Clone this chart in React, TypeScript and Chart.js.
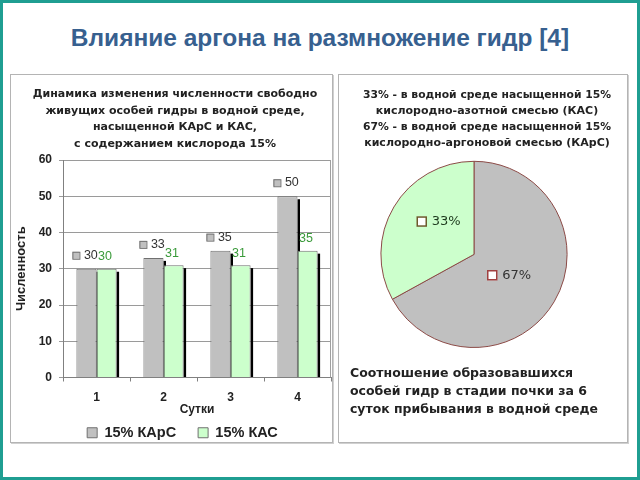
import React, { useEffect, useRef } from 'react';
import { Chart, registerables } from 'chart.js';

Chart.register(...registerables);

// ---------- data ----------
const slideTitle = 'Влияние аргона на размножение гидр [4]';

const barTitleLines = [
  'Динамика изменения численности свободно',
  'живущих особей гидры в водной среде,',
  'насыщенной КАрС и КАС,',
  'с содержанием кислорода 15%',
];
const days = ['1', '2', '3', '4'];
const seriesNames = ['15% КАрС', '15% КАС'];
const karsCounts = [30, 33, 35, 50];
const kasCounts = [30, 31, 31, 35];
const yAxisLabel = 'Численность';
const xAxisLabel = 'Сутки';
const yMin = 0;
const yMax = 60;
const yStep = 10;

const pieTitleLines = [
  '33% - в водной среде насыщенной 15%',
  'кислородно-азотной смесью (КАС)',
  '67% - в водной среде насыщенной 15%',
  'кислородно-аргоновой смесью (КАрС)',
];
const pieLabels = ['КАрС', 'КАС'];
const pieShares = [67, 33];
const pieCaptionLines = [
  'Соотношение образовавшихся',
  'особей гидр в стадии почки за 6',
  'суток прибывания в водной среде',
];

// ---------- styles ----------
const GRAY = '#c0c0c0';
const GREEN = '#ccffcc';
const TEXT = '#222222';

// ---------- plugins ----------
const boxShiftPlugin = {
  id: 'boxShift',
  afterLayout(chart: any, _args: any, opts: any) {
    if (!opts) return;
    if (opts.titleDx && chart.titleBlock) {
      chart.titleBlock.left += opts.titleDx;
      chart.titleBlock.right += opts.titleDx;
    }
    if (chart.legend) {
      if (opts.legendDx) {
        chart.legend.left += opts.legendDx;
        chart.legend.right += opts.legendDx;
      }
      if (opts.legendDy) {
        chart.legend.top += opts.legendDy;
        chart.legend.bottom += opts.legendDy;
      }
    }
  },
};

const barShadowPlugin = {
  id: 'barShadow',
  beforeDatasetsDraw(chart: any) {
    const ctx = chart.ctx;
    const area = chart.chartArea;
    ctx.save();
    // right border of plot area
    ctx.strokeStyle = '#a0a0a0';
    ctx.lineWidth = 1;
    ctx.beginPath();
    ctx.moveTo(Math.round(area.right) - 0.5, area.top);
    ctx.lineTo(Math.round(area.right) - 0.5, area.bottom);
    ctx.stroke();
    ctx.fillStyle = '#000';
    chart.data.datasets.forEach((_ds: any, i: number) => {
      const meta = chart.getDatasetMeta(i);
      meta.data.forEach((el: any) => {
        const { x, y, base, width } = el.getProps(['x', 'y', 'base', 'width'], true);
        const right = x + width / 2;
        ctx.fillRect(right, y + 3, 2.5, base - y - 3);
      });
    });
    ctx.restore();
  },
};

const barLabelPlugin = {
  id: 'barLabels',
  afterDatasetsDraw(chart: any) {
    const ctx = chart.ctx;
    ctx.save();
    ctx.font = '12.5px "Liberation Sans", Arial, sans-serif';
    ctx.textBaseline = 'middle';
    ctx.textAlign = 'left';
    chart.data.datasets.forEach((ds: any, i: number) => {
      const meta = chart.getDatasetMeta(i);
      meta.data.forEach((el: any, j: number) => {
        const { x, y, width } = el.getProps(['x', 'y', 'width'], true);
        const left = x - width / 2;
        const value = String(ds.data[j]);
        if (i === 0) {
          const cy = y - 13.5;
          ctx.fillStyle = GRAY;
          ctx.fillRect(left - 4, cy - 3.5, 7, 7);
          ctx.strokeStyle = '#707070';
          ctx.lineWidth = 1;
          ctx.strokeRect(left - 3.5, cy - 3, 7, 7);
          ctx.fillStyle = '#333333';
          ctx.fillText(value, left + 7.5, cy);
        } else {
          const cy = y - 12;
          ctx.fillStyle = '#3a9a3a';
          ctx.fillText(value, left + 1.5, cy);
        }
      });
    });
    ctx.restore();
  },
};

const pieSquareColors = ['#a04040', '#6b5a2a'];
const pieTextColors = ['#333333', '#1d3a1d'];

const pieLabelPlugin = {
  id: 'pieLabels',
  afterDatasetsDraw(chart: any) {
    const ctx = chart.ctx;
    const meta = chart.getDatasetMeta(0);
    const total = (chart.data.datasets[0].data as number[]).reduce((a, b) => a + b, 0);
    ctx.save();
    ctx.font = '13px "DejaVu Sans", sans-serif';
    ctx.textBaseline = 'middle';
    ctx.textAlign = 'left';
    meta.data.forEach((el: any, i: number) => {
      const { x, y, startAngle, endAngle, outerRadius } = el.getProps(
        ['x', 'y', 'startAngle', 'endAngle', 'outerRadius'],
        true
      );
      const mid = (startAngle + endAngle) / 2;
      const cx = x + Math.cos(mid) * outerRadius * 0.44;
      const cy = y + Math.sin(mid) * outerRadius * 0.44 - (Math.sin(mid) < 0 ? 12 : 0);
      const pct = Math.round((chart.data.datasets[0].data[i] / total) * 100) + '%';
      ctx.fillStyle = '#ffffff';
      ctx.fillRect(cx - 22, cy - 5, 10, 10);
      ctx.strokeStyle = pieSquareColors[i];
      ctx.lineWidth = 1.5;
      ctx.strokeRect(cx - 21.5, cy - 4.5, 9, 9);
      ctx.fillStyle = pieTextColors[i];
      ctx.fillText(pct, cx - 7, cy + 0.5);
    });
    ctx.restore();
  },
};

// ---------- components ----------
function BarPanel() {
  const ref = useRef<HTMLCanvasElement>(null);
  useEffect(() => {
    const chart = new Chart(ref.current as HTMLCanvasElement, {
      type: 'bar',
      data: {
        labels: days,
        datasets: [
          {
            label: seriesNames[0],
            data: karsCounts,
            backgroundColor: GRAY,
            borderColor: '#707070',
            borderWidth: 1,
            categoryPercentage: 0.6,
            barPercentage: 1,
          },
          {
            label: seriesNames[1],
            data: kasCounts,
            backgroundColor: GREEN,
            borderColor: '#707070',
            borderWidth: 1,
            categoryPercentage: 0.6,
            barPercentage: 1,
          },
        ],
      },
      options: {
        responsive: false,
        animation: false,
        layout: { padding: { left: 0, right: 2, top: 0, bottom: 0 } },
        scales: {
          x: {
            grid: { drawOnChartArea: false, drawTicks: true, tickLength: 4, color: '#808080' },
            border: { color: '#808080' },
            ticks: {
              color: TEXT,
              padding: 10,
              font: { family: '"Liberation Sans", Arial, sans-serif', weight: 'bold', size: 12, lineHeight: 1 },
            },
            title: {
              display: true,
              text: xAxisLabel,
              color: TEXT,
              padding: { top: -10, bottom: 0 },
              font: { family: '"Liberation Sans", Arial, sans-serif', weight: 'bold', size: 12, lineHeight: 1 },
            },
          },
          y: {
            min: yMin,
            max: yMax,
            grid: { color: '#9a9a9a', tickLength: 4 },
            border: { color: '#808080' },
            ticks: {
              stepSize: yStep,
              color: TEXT,
              padding: 7,
              font: { family: '"Liberation Sans", Arial, sans-serif', weight: 'bold', size: 12 },
            },
            title: {
              display: true,
              text: yAxisLabel,
              color: TEXT,
              padding: { top: 4, bottom: 0 },
              font: { family: '"Liberation Sans", Arial, sans-serif', weight: 'bold', size: 13 },
            },
            afterFit: (scale: any) => {
              scale.width = 53;
            },
          },
        },
        plugins: {
          tooltip: { enabled: false },
          title: {
            display: true,
            text: barTitleLines,
            color: TEXT,
            padding: { top: 12, bottom: 8 },
            font: { family: '"DejaVu Sans", sans-serif', weight: 'bold', size: 11, lineHeight: 1.5 },
          },
          legend: {
            position: 'bottom',
            labels: {
              color: TEXT,
              boxWidth: 10,
              boxHeight: 10,
              padding: 22,
              font: { family: '"Liberation Sans", Arial, sans-serif', weight: 'bold', size: 14.5 },
            },
          },
          boxShift: { titleDx: 4.5, legendDx: 12, legendDy: -12 },
        } as any,
      },
      plugins: [boxShiftPlugin, barShadowPlugin, barLabelPlugin],
    } as any);
    return () => chart.destroy();
  }, []);
  return (
    <canvas
      ref={ref}
      width={323}
      height={388}
      style={{ position: 'absolute', left: 10, top: 74 }}
    />
  );
}

function PiePanel() {
  const ref = useRef<HTMLCanvasElement>(null);
  useEffect(() => {
    const chart = new Chart(ref.current as HTMLCanvasElement, {
      type: 'pie',
      data: {
        labels: pieLabels,
        datasets: [
          {
            data: pieShares,
            backgroundColor: [GRAY, GREEN],
            borderColor: '#8b4a46',
            borderWidth: 1,
          },
        ],
      },
      options: {
        responsive: false,
        animation: false,
        layout: { padding: { left: 12, right: 30, top: 0, bottom: 0 } },
        plugins: {
          tooltip: { enabled: false },
          legend: { display: false },
          title: {
            display: true,
            text: pieTitleLines,
            color: TEXT,
            padding: { top: 13, bottom: 10 },
            font: { family: '"DejaVu Sans", sans-serif', weight: 'bold', size: 11, lineHeight: 1.45 },
          },
          subtitle: {
            display: true,
            position: 'bottom',
            align: 'start',
            text: pieCaptionLines,
            color: TEXT,
            padding: { top: 17, bottom: 24 },
            font: { family: '"DejaVu Sans", sans-serif', weight: 'bold', size: 12.5, lineHeight: 1.44 },
          },
          boxShift: { titleDx: 13 },
        } as any,
      },
      plugins: [boxShiftPlugin, pieLabelPlugin],
    } as any);
    return () => chart.destroy();
  }, []);
  return (
    <canvas
      ref={ref}
      width={290}
      height={369}
      style={{ position: 'absolute', left: 338, top: 74 }}
    />
  );
}

export default function App() {
  const panel: React.CSSProperties = {
    position: 'absolute',
    boxSizing: 'border-box',
    border: '1px solid #b4b4b4',
    boxShadow: '1px 1px 0 #d0d0d0',
    background: '#ffffff',
  };
  return (
    <div
      style={{
        position: 'absolute',
        left: 0,
        top: 0,
        width: 640,
        height: 480,
        boxSizing: 'border-box',
        border: '3px solid #1f9e92',
        background: '#ffffff',
        overflow: 'hidden',
      }}
    >
      <div
        style={{
          position: 'absolute',
          left: -3,
          top: 20,
          width: 640,
          textAlign: 'center',
          fontFamily: '"Liberation Sans", Arial, sans-serif',
          fontWeight: 'bold',
          fontSize: 24.5,
          lineHeight: '30px',
          color: '#37608f',
        }}
      >
        {slideTitle}
      </div>
      <div style={{ ...panel, left: 7, top: 71, width: 323, height: 369 }} />
      <div style={{ ...panel, left: 335, top: 71, width: 290, height: 369 }} />
      <div style={{ position: 'absolute', left: -3, top: -3 }}>
        <BarPanel />
        <PiePanel />
      </div>
    </div>
  );
}
